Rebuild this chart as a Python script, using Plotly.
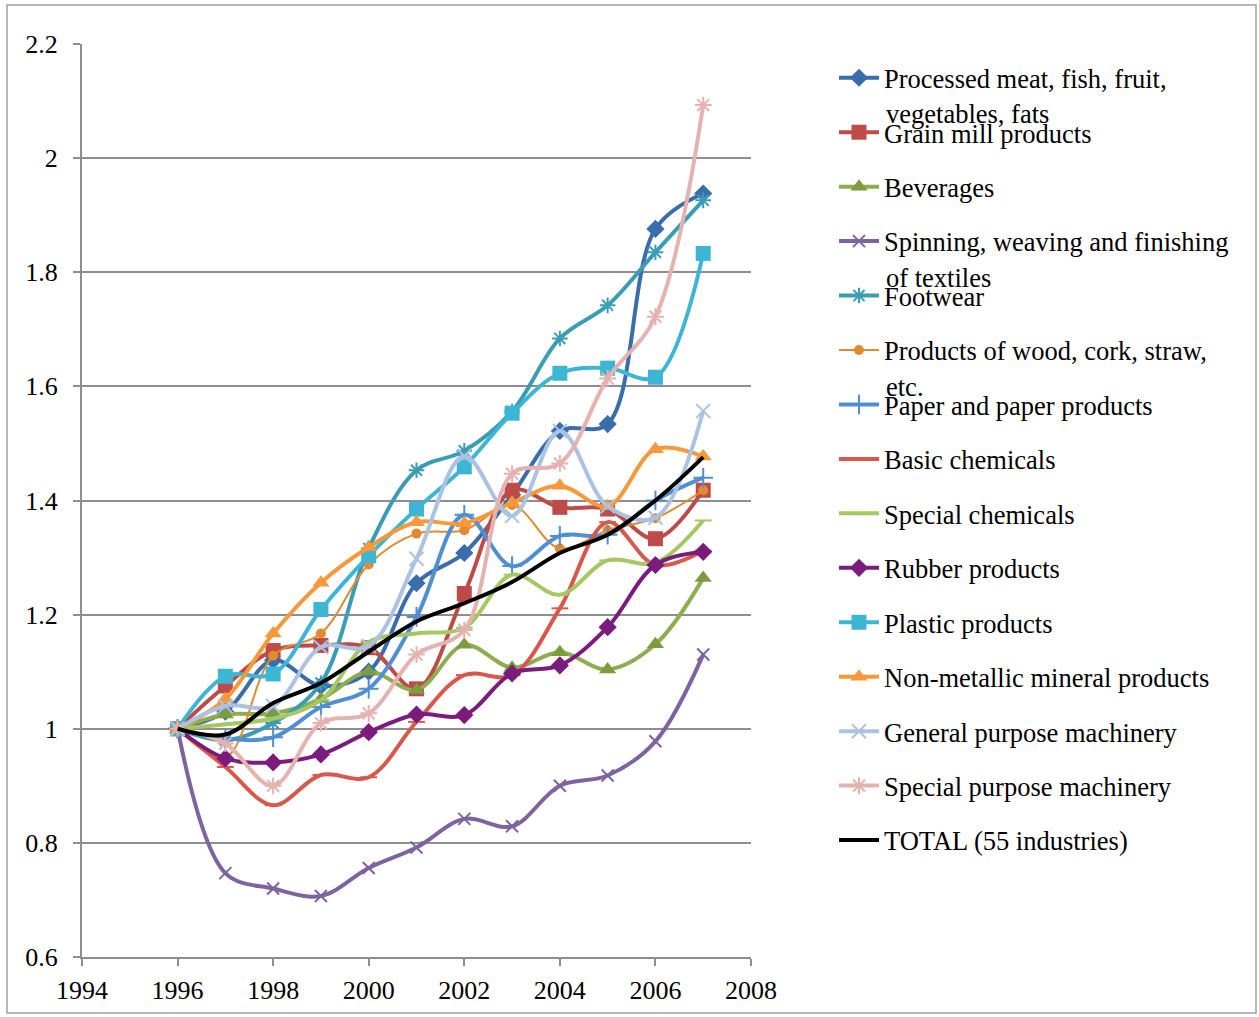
import plotly.graph_objects as go

years = [1996, 1997, 1998, 1999, 2000, 2001, 2002, 2003, 2004, 2005, 2006, 2007]

processed_meat = [1.00, 1.03, 1.12, 1.075, 1.10, 1.255, 1.308, 1.41, 1.522, 1.534, 1.876, 1.938]
grain_mill = [1.00, 1.075, 1.137, 1.146, 1.142, 1.07, 1.237, 1.418, 1.388, 1.385, 1.333, 1.418]
beverages = [1.00, 1.025, 1.027, 1.052, 1.10, 1.068, 1.147, 1.107, 1.134, 1.104, 1.148, 1.264]
spinning = [1.00, 0.747, 0.72, 0.707, 0.756, 0.792, 0.842, 0.829, 0.90, 0.918, 0.978, 1.13]
footwear = [1.00, 0.98, 1.01, 1.08, 1.316, 1.453, 1.487, 1.556, 1.684, 1.742, 1.835, 1.926]
wood = [1.00, 0.95, 1.128, 1.167, 1.288, 1.342, 1.348, 1.392, 1.316, 1.348, 1.369, 1.418]
paper = [1.00, 0.983, 0.985, 1.038, 1.07, 1.196, 1.375, 1.285, 1.338, 1.340, 1.40, 1.44]
basic_chem = [1.00, 0.933, 0.866, 0.919, 0.915, 1.012, 1.094, 1.094, 1.211, 1.362, 1.287, 1.312]
special_chem = [1.00, 1.008, 1.018, 1.05, 1.152, 1.167, 1.177, 1.27, 1.235, 1.295, 1.291, 1.365]
rubber = [1.00, 0.948, 0.941, 0.955, 0.994, 1.025, 1.024, 1.097, 1.111, 1.178, 1.287, 1.31]
plastic = [1.00, 1.092, 1.096, 1.209, 1.303, 1.385, 1.459, 1.553, 1.623, 1.632, 1.616, 1.833]
non_metallic = [1.00, 1.052, 1.167, 1.256, 1.318, 1.362, 1.36, 1.396, 1.426, 1.39, 1.49, 1.477]
general_mach = [1.00, 1.04, 1.04, 1.143, 1.145, 1.298, 1.478, 1.373, 1.522, 1.39, 1.37, 1.557]
special_mach = [1.00, 0.974, 0.90, 1.01, 1.027, 1.13, 1.173, 1.447, 1.465, 1.614, 1.722, 2.093]
total = [1.00, 0.99, 1.045, 1.08, 1.135, 1.188, 1.22, 1.257, 1.308, 1.34, 1.40, 1.476]

y_ticks = [0.6, 0.8, 1.0, 1.2, 1.4, 1.6, 1.8, 2.0, 2.2]
y_tick_text = ["0.6", "0.8", "1", "1.2", "1.4", "1.6", "1.8", "2", "2.2"]
x_ticks = [1994, 1996, 1998, 2000, 2002, 2004, 2006, 2008]

# Legend labels that wrap: first line goes in the legend entry,
# the continuation is written underneath it.
wrapped = {
    "Processed meat, fish, fruit,": "vegetables, fats",
    "Spinning, weaving and finishing": "of textiles",
    "Products of wood, cork, straw,": "etc.",
}

# name, values, line colour, marker symbol, marker colour, marker size, line width
series = [
    ("Processed meat, fish, fruit,", processed_meat, "#3A6DAB", "diamond", "#3A6DAB", 14, 4),
    ("Grain mill products", grain_mill, "#BE4B48", "square", "#BE4B48", 15, 4),
    ("Beverages", beverages, "#8DAE4E", "triangle-up", "#7C9C3E", 15, 4),
    ("Spinning, weaving and finishing", spinning, "#7F63A1", "x-thin", "#7F63A1", 12, 4),
    ("Footwear", footwear, "#3A9DB5", "asterisk", "#3A9DB5", 13, 4),
    ("Products of wood, cork, straw,", wood, "#E28A30", "circle", "#E28A30", 10, 2),
    ("Paper and paper products", paper, "#4F8FD2", "cross-thin", "#4F8FD2", 14, 4),
    ("Basic chemicals", basic_chem, "#D9584C", "line-ew", "#D9584C", 12, 4),
    ("Special chemicals", special_chem, "#A5C862", "line-ew", "#A5C862", 12, 4),
    ("Rubber products", rubber, "#7B1C7D", "diamond", "#7B1C7D", 14, 4),
    ("Plastic products", plastic, "#3DB6D6", "square", "#3DB6D6", 15, 4),
    ("Non-metallic mineral products", non_metallic, "#F7993A", "triangle-up", "#F7993A", 15, 4),
    ("General purpose machinery", general_mach, "#ABC2E2", "x-thin", "#ABC2E2", 14, 4),
    ("Special purpose machinery", special_mach, "#E6B2B0", "asterisk", "#E6B2B0", 14, 4),
]

fig = go.Figure()

for name, values, color, symbol, mcolor, msize, lw in series:
    open_symbol = symbol in ("x-thin", "cross-thin", "asterisk", "line-ew")
    fig.add_trace(go.Scatter(
        x=years, y=values, name=name, mode="lines+markers",
        line=dict(color=color, width=lw, shape="spline", smoothing=1.0),
        marker=dict(symbol=symbol, size=msize, color=mcolor,
                    line=dict(color=mcolor, width=2 if open_symbol else 0)),
        legendgroup=name,
    ))

fig.add_trace(go.Scatter(
    x=years, y=total, name="TOTAL (55 industries)", mode="lines",
    line=dict(color="#000000", width=4, shape="spline", smoothing=1.0),
    legendgroup="total",
))

serif = "Liberation Serif"
grid_col = "#8E8E8E"
font_size = 26.5
tick_font = dict(family=serif, size=26, color="#000000")

# pixel geometry of the plotting area
plot_left, plot_top, plot_w, plot_h = 82, 44, 669, 913
legend_step = 54.6
legend_first_y = 78
legend_text_x = 884

fig.update_layout(
    width=1259, height=1017,
    margin=dict(l=82, r=508, t=44, b=60),
    paper_bgcolor="#FFFFFF", plot_bgcolor="#FFFFFF",
    font=dict(family=serif, size=font_size, color="#000000"),
    showlegend=True,
    legend=dict(
        x=(834 - plot_left) / plot_w, xanchor="left",
        y=0.989, yanchor="top",
        font=dict(family=serif, size=font_size, color="#000000"),
        tracegroupgap=17, valign="middle", itemwidth=40,
        bgcolor="rgba(0,0,0,0)",
    ),
    xaxis=dict(
        range=[1994, 2008], tickvals=x_ticks, showgrid=False,
        showline=True, linecolor=grid_col, linewidth=2,
        ticks="outside", ticklen=7, tickcolor=grid_col, tickwidth=2,
        tickfont=tick_font, zeroline=False, ticklabelstandoff=2,
    ),
    yaxis=dict(
        range=[0.6, 2.2], tickvals=y_ticks, ticktext=y_tick_text,
        showgrid=True, gridcolor=grid_col, gridwidth=2,
        showline=True, linecolor=grid_col, linewidth=2,
        ticks="outside", ticklen=7, tickcolor=grid_col, tickwidth=2,
        tickfont=tick_font, zeroline=False, ticklabelstandoff=10,
    ),
)

# continuation lines of the wrapped legend labels
names = [s[0] for s in series]
for first, rest in wrapped.items():
    idx = names.index(first)
    y_px = legend_first_y + idx * legend_step + 36
    fig.add_annotation(
        text=rest, xref="paper", yref="paper",
        x=(legend_text_x - plot_left) / plot_w, xanchor="left",
        y=1 - (y_px - plot_top) / plot_h, yanchor="middle",
        showarrow=False, font=dict(family=serif, size=font_size, color="#000000"),
    )

# thin frame around the whole chart
fig.add_shape(type="rect", xref="paper", yref="paper",
              x0=(7 - plot_left) / plot_w, x1=(1256 - plot_left) / plot_w,
              y0=1 - (1013 - plot_top) / plot_h, y1=1 - (5 - plot_top) / plot_h,
              line=dict(color="#A0A0A0", width=1.5), layer="below")

fig.write_html("out.html")
